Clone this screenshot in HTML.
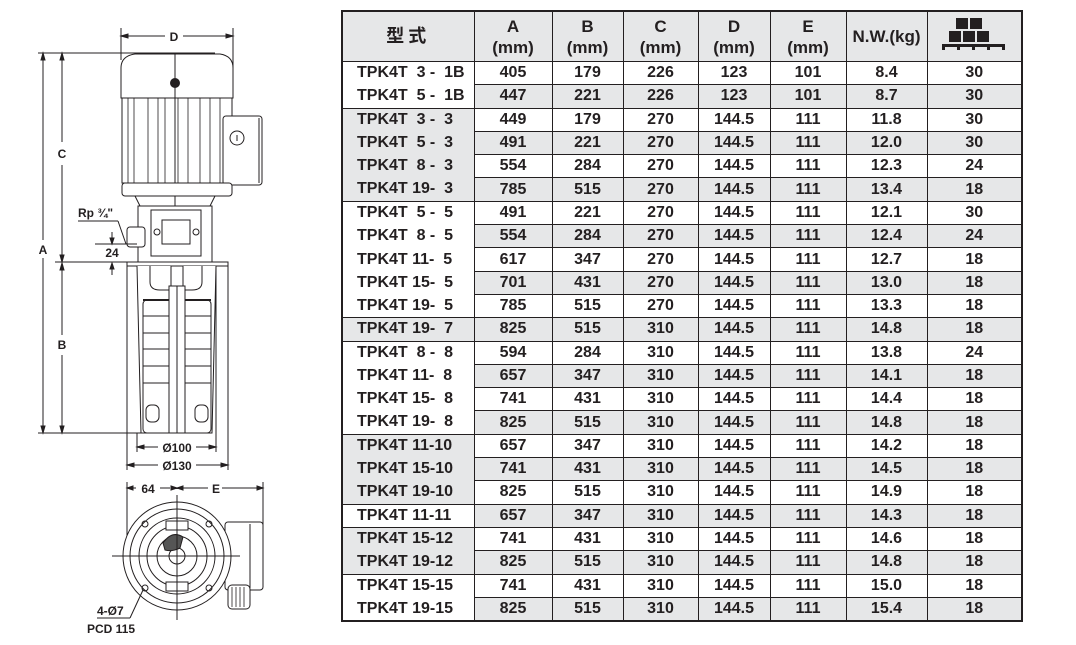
<!DOCTYPE html>
<html><head><meta charset="utf-8">
<style>
html,body{margin:0;padding:0;background:#fff;}
body{width:1076px;height:645px;position:relative;overflow:hidden;font-family:"Liberation Sans","Noto Sans CJK SC",sans-serif;color:#231f20;}
#tbl{position:absolute;left:341px;top:10px;width:680px;border-collapse:collapse;table-layout:fixed;border:2px solid #231f20;}
#tbl td{border-left:1px solid #231f20;border-right:1px solid #231f20;padding:0;height:22.3px;font-size:16px;font-weight:bold;text-align:center;line-height:22px;white-space:pre;}
#tbl td.d{border-top:1px solid #231f20;}
#tbl td.m{text-align:left;padding-left:14px;}
#tbl td.t{border-top:1px solid #231f20;}
#tbl tr.h td{height:49px;background:#e6e7e8;line-height:21px;font-size:17px;border-bottom:1px solid #231f20;}
.g{background:#e6e7e8;}
svg text{font-family:"Liberation Sans",sans-serif;font-weight:bold;fill:#231f20;}
</style></head><body>
<svg width="340" height="645" style="position:absolute;left:0;top:0" stroke="#231f20" fill="none" stroke-width="1">
<line x1="121" y1="28" x2="121" y2="60"/><line x1="233" y1="28" x2="233" y2="98"/>
<line x1="121" y1="36" x2="165" y2="36"/><line x1="183" y1="36" x2="233" y2="36"/>
<path d="M121 36l7-2v4z M233 36l-7-2v4z" fill="#231f20"/>
<text x="174" y="41" font-size="12" text-anchor="middle" stroke="none">D</text>
<line x1="38" y1="53" x2="215" y2="53"/>
<line x1="43" y1="53" x2="43" y2="240"/><line x1="43" y1="258" x2="43" y2="433"/>
<path d="M43 53l-2 7h4z M43 433l-2-7h4z" fill="#231f20"/>
<text x="43" y="254" font-size="12" text-anchor="middle" stroke="none">A</text>
<line x1="62" y1="53" x2="62" y2="142"/><line x1="62" y1="165" x2="62" y2="262"/>
<path d="M62 53l-2 7h4z M62 262l-2-7h4z" fill="#231f20"/>
<text x="62" y="158" font-size="12" text-anchor="middle" stroke="none">C</text>
<line x1="62" y1="263" x2="62" y2="335"/><line x1="62" y1="355" x2="62" y2="433"/>
<path d="M62 263l-2 7h4z M62 433l-2-7h4z" fill="#231f20"/>
<text x="62" y="349" font-size="12" text-anchor="middle" stroke="none">B</text>
<line x1="38" y1="433" x2="170" y2="433"/>
<line x1="55" y1="262" x2="127" y2="262"/>
<path d="M121 98 V68 Q121 56 135 54 H220 Q233 56 233 68 V98 Z" fill="#fff"/>
<circle cx="175" cy="83" r="4.5" fill="#231f20"/>
<rect x="122" y="98" width="110" height="85" fill="#fff"/>
<g stroke-width="0.8">
<line x1="128" y1="98" x2="128" y2="183"/><line x1="134" y1="98" x2="134" y2="183"/>
<line x1="148" y1="98" x2="148" y2="183"/><line x1="158" y1="98" x2="158" y2="183"/>
<line x1="165" y1="98" x2="165" y2="183"/><line x1="178" y1="98" x2="178" y2="183"/>
<line x1="188" y1="98" x2="188" y2="183"/><line x1="200" y1="98" x2="200" y2="183"/>
<line x1="210" y1="98" x2="210" y2="183"/><line x1="220" y1="98" x2="220" y2="183"/>
</g>
<line x1="175" y1="53" x2="175" y2="280"/>
<rect x="223" y="116" width="39" height="69" rx="3" fill="#fff"/>
<line x1="259" y1="118" x2="259" y2="183"/>
<circle cx="237" cy="138" r="7"/><line x1="237" y1="135" x2="237" y2="141"/>
<rect x="122" y="183" width="110" height="13" rx="3" fill="#fff"/>
<path d="M135 196 L140 206 H210 L215 196"/>
<path d="M138 206 H212 V262 H138 Z" fill="#fff"/>
<rect x="151" y="210" width="50" height="46" fill="#fff"/>
<rect x="162" y="220" width="28" height="24"/>
<circle cx="157" cy="232" r="3"/><circle cx="196" cy="232" r="3"/>
<rect x="127" y="227" width="18" height="20" rx="3" fill="#fff"/>
<text x="78" y="217" font-size="12" stroke="none">Rp ¾"</text>
<line x1="78" y1="221" x2="118" y2="221"/><line x1="118" y1="221" x2="126" y2="244"/>
<line x1="95" y1="244" x2="137" y2="244"/>
<line x1="112" y1="232" x2="112" y2="244"/><line x1="112" y1="263" x2="112" y2="275"/>
<path d="M112 244l-2-6h4z M112 263l-2 6h4z" fill="#231f20"/>
<text x="112" y="257" font-size="12" text-anchor="middle" stroke="none">24</text>
<rect x="127" y="262" width="101" height="4" fill="#fff"/>
<path d="M137 266 L141 433 H212 L216 266" fill="#fff"/>
<path d="M150 266 V282 Q150 290 160 290 H192 Q202 290 202 282 V266"/>
<rect x="143" y="300" width="68" height="133" rx="4" fill="#fff"/>
<line x1="143" y1="300" x2="211" y2="300" stroke-width="2"/>
<g><line x1="143" y1="316" x2="211" y2="316"/><line x1="143" y1="333" x2="211" y2="333"/>
<line x1="143" y1="349" x2="211" y2="349"/><line x1="143" y1="366" x2="211" y2="366"/>
<line x1="143" y1="383" x2="211" y2="383"/></g>
<rect x="169" y="286" width="16" height="147" fill="#fff"/>
<rect x="171" y="266" width="12" height="20" fill="#fff"/>
<line x1="177" y1="286" x2="177" y2="433"/>
<rect x="146" y="405" width="13" height="17" rx="5"/><rect x="195" y="405" width="13" height="17" rx="5"/>
<line x1="137" y1="433" x2="137" y2="452"/><line x1="216" y1="266" x2="216" y2="452"/>
<line x1="127" y1="266" x2="127" y2="470"/><line x1="228" y1="266" x2="228" y2="470"/>
<line x1="137" y1="447" x2="158" y2="447"/><line x1="196" y1="447" x2="216" y2="447"/>
<path d="M137 447l7-2v4z M216 447l-7-2v4z" fill="#231f20"/>
<text x="177" y="452" font-size="12" text-anchor="middle" stroke="none">Ø100</text>
<line x1="127" y1="465" x2="158" y2="465"/><line x1="196" y1="465" x2="228" y2="465"/>
<path d="M127 465l7-2v4z M228 465l-7-2v4z" fill="#231f20"/>
<text x="177" y="470" font-size="12" text-anchor="middle" stroke="none">Ø130</text>
<line x1="127" y1="482" x2="127" y2="556"/><line x1="263" y1="482" x2="263" y2="530"/>
<line x1="127" y1="488" x2="136" y2="488"/><line x1="160" y1="488" x2="170" y2="488"/>
<line x1="180" y1="488" x2="208" y2="488"/><line x1="222" y1="488" x2="263" y2="488"/>
<path d="M127 488l6-2v4z M177 488l-6-2v4z M177 488l6-2v4z M263 488l-6-2v4z" fill="#231f20"/>
<text x="148" y="493" font-size="12" text-anchor="middle" stroke="none">64</text>
<text x="216" y="493" font-size="12" text-anchor="middle" stroke="none">E</text>
<rect x="225" y="522" width="38" height="68" rx="3" fill="#fff"/>
<line x1="250" y1="524" x2="250" y2="588"/>
<rect x="228" y="585" width="22" height="24" rx="4" fill="#fff"/>
<g stroke-width="0.8"><line x1="232" y1="587" x2="232" y2="607"/><line x1="236" y1="587" x2="236" y2="607"/><line x1="240" y1="587" x2="240" y2="607"/><line x1="244" y1="587" x2="244" y2="607"/></g>
<circle cx="177" cy="556" r="54" fill="#fff"/>
<circle cx="177" cy="556" r="47"/>
<circle cx="177" cy="556" r="38"/>
<circle cx="177" cy="556" r="30"/>
<circle cx="177" cy="556" r="20"/>
<circle cx="177" cy="556" r="8"/>
<rect x="166" y="521" width="22" height="9" fill="#fff"/><rect x="166" y="582" width="22" height="9" fill="#fff"/>
<path d="M163 543 Q172 530 183 537 L180 548 Q172 552 165 550 Z" fill="#555"/>
<circle cx="145" cy="524" r="3"/><circle cx="209" cy="524" r="3"/><circle cx="145" cy="588" r="3"/><circle cx="209" cy="588" r="3"/>
<line x1="177" y1="495" x2="177" y2="620"/><line x1="112" y1="556" x2="240" y2="556"/>
<text x="97" y="615" font-size="12" stroke="none">4-Ø7</text>
<line x1="97" y1="618" x2="130" y2="618"/><line x1="130" y1="618" x2="143" y2="590"/>
<text x="87" y="633" font-size="12" stroke="none">PCD 115</text>
</svg>

<table id="tbl">
<colgroup><col style="width:132px"><col style="width:78px"><col style="width:71px"><col style="width:75px"><col style="width:72px"><col style="width:76px"><col style="width:81px"><col style="width:95px"></colgroup>
<tr class="h"><td style="font-size:18px;letter-spacing:4px">型式</td><td>A<br>(mm)</td><td>B<br>(mm)</td><td>C<br>(mm)</td><td>D<br>(mm)</td><td>E<br>(mm)</td><td>N.W.(kg)</td><td><svg width="66" height="32" viewBox="0 0 66 32"><g fill="#231f20"><rect x="15" y="0" width="12" height="11"/><rect x="29" y="0" width="12" height="11"/><rect x="8" y="13" width="12" height="11"/><rect x="22" y="13" width="12" height="11"/><rect x="36" y="13" width="12" height="11"/><rect x="1" y="26" width="63" height="3"/><rect x="1" y="26" width="3" height="6"/><rect x="16" y="26" width="3" height="6"/><rect x="31" y="26" width="3" height="6"/><rect x="46" y="26" width="3" height="6"/><rect x="61" y="26" width="3" height="6"/></g></svg></td></tr>
<tr><td class="m">TPK4T  3 -  1B</td><td>405</td><td>179</td><td>226</td><td>123</td><td>101</td><td>8.4</td><td>30</td></tr>
<tr><td class="m">TPK4T  5 -  1B</td><td class="d g">447</td><td class="d g">221</td><td class="d g">226</td><td class="d g">123</td><td class="d g">101</td><td class="d g">8.7</td><td class="d g">30</td></tr>
<tr><td class="m t g">TPK4T  3 -  3</td><td class="d">449</td><td class="d">179</td><td class="d">270</td><td class="d">144.5</td><td class="d">111</td><td class="d">11.8</td><td class="d">30</td></tr>
<tr><td class="m g">TPK4T  5 -  3</td><td class="d g">491</td><td class="d g">221</td><td class="d g">270</td><td class="d g">144.5</td><td class="d g">111</td><td class="d g">12.0</td><td class="d g">30</td></tr>
<tr><td class="m g">TPK4T  8 -  3</td><td class="d">554</td><td class="d">284</td><td class="d">270</td><td class="d">144.5</td><td class="d">111</td><td class="d">12.3</td><td class="d">24</td></tr>
<tr><td class="m g">TPK4T 19-  3</td><td class="d g">785</td><td class="d g">515</td><td class="d g">270</td><td class="d g">144.5</td><td class="d g">111</td><td class="d g">13.4</td><td class="d g">18</td></tr>
<tr><td class="m t">TPK4T  5 -  5</td><td class="d">491</td><td class="d">221</td><td class="d">270</td><td class="d">144.5</td><td class="d">111</td><td class="d">12.1</td><td class="d">30</td></tr>
<tr><td class="m">TPK4T  8 -  5</td><td class="d g">554</td><td class="d g">284</td><td class="d g">270</td><td class="d g">144.5</td><td class="d g">111</td><td class="d g">12.4</td><td class="d g">24</td></tr>
<tr><td class="m">TPK4T 11-  5</td><td class="d">617</td><td class="d">347</td><td class="d">270</td><td class="d">144.5</td><td class="d">111</td><td class="d">12.7</td><td class="d">18</td></tr>
<tr><td class="m">TPK4T 15-  5</td><td class="d g">701</td><td class="d g">431</td><td class="d g">270</td><td class="d g">144.5</td><td class="d g">111</td><td class="d g">13.0</td><td class="d g">18</td></tr>
<tr><td class="m">TPK4T 19-  5</td><td class="d">785</td><td class="d">515</td><td class="d">270</td><td class="d">144.5</td><td class="d">111</td><td class="d">13.3</td><td class="d">18</td></tr>
<tr><td class="m t g">TPK4T 19-  7</td><td class="d g">825</td><td class="d g">515</td><td class="d g">310</td><td class="d g">144.5</td><td class="d g">111</td><td class="d g">14.8</td><td class="d g">18</td></tr>
<tr><td class="m t">TPK4T  8 -  8</td><td class="d">594</td><td class="d">284</td><td class="d">310</td><td class="d">144.5</td><td class="d">111</td><td class="d">13.8</td><td class="d">24</td></tr>
<tr><td class="m">TPK4T 11-  8</td><td class="d g">657</td><td class="d g">347</td><td class="d g">310</td><td class="d g">144.5</td><td class="d g">111</td><td class="d g">14.1</td><td class="d g">18</td></tr>
<tr><td class="m">TPK4T 15-  8</td><td class="d">741</td><td class="d">431</td><td class="d">310</td><td class="d">144.5</td><td class="d">111</td><td class="d">14.4</td><td class="d">18</td></tr>
<tr><td class="m">TPK4T 19-  8</td><td class="d g">825</td><td class="d g">515</td><td class="d g">310</td><td class="d g">144.5</td><td class="d g">111</td><td class="d g">14.8</td><td class="d g">18</td></tr>
<tr><td class="m t g">TPK4T 11-10</td><td class="d">657</td><td class="d">347</td><td class="d">310</td><td class="d">144.5</td><td class="d">111</td><td class="d">14.2</td><td class="d">18</td></tr>
<tr><td class="m g">TPK4T 15-10</td><td class="d g">741</td><td class="d g">431</td><td class="d g">310</td><td class="d g">144.5</td><td class="d g">111</td><td class="d g">14.5</td><td class="d g">18</td></tr>
<tr><td class="m g">TPK4T 19-10</td><td class="d">825</td><td class="d">515</td><td class="d">310</td><td class="d">144.5</td><td class="d">111</td><td class="d">14.9</td><td class="d">18</td></tr>
<tr><td class="m t">TPK4T 11-11</td><td class="d g">657</td><td class="d g">347</td><td class="d g">310</td><td class="d g">144.5</td><td class="d g">111</td><td class="d g">14.3</td><td class="d g">18</td></tr>
<tr><td class="m t g">TPK4T 15-12</td><td class="d">741</td><td class="d">431</td><td class="d">310</td><td class="d">144.5</td><td class="d">111</td><td class="d">14.6</td><td class="d">18</td></tr>
<tr><td class="m g">TPK4T 19-12</td><td class="d g">825</td><td class="d g">515</td><td class="d g">310</td><td class="d g">144.5</td><td class="d g">111</td><td class="d g">14.8</td><td class="d g">18</td></tr>
<tr><td class="m t">TPK4T 15-15</td><td class="d">741</td><td class="d">431</td><td class="d">310</td><td class="d">144.5</td><td class="d">111</td><td class="d">15.0</td><td class="d">18</td></tr>
<tr><td class="m">TPK4T 19-15</td><td class="d g">825</td><td class="d g">515</td><td class="d g">310</td><td class="d g">144.5</td><td class="d g">111</td><td class="d g">15.4</td><td class="d g">18</td></tr>
</table>
</body></html>
